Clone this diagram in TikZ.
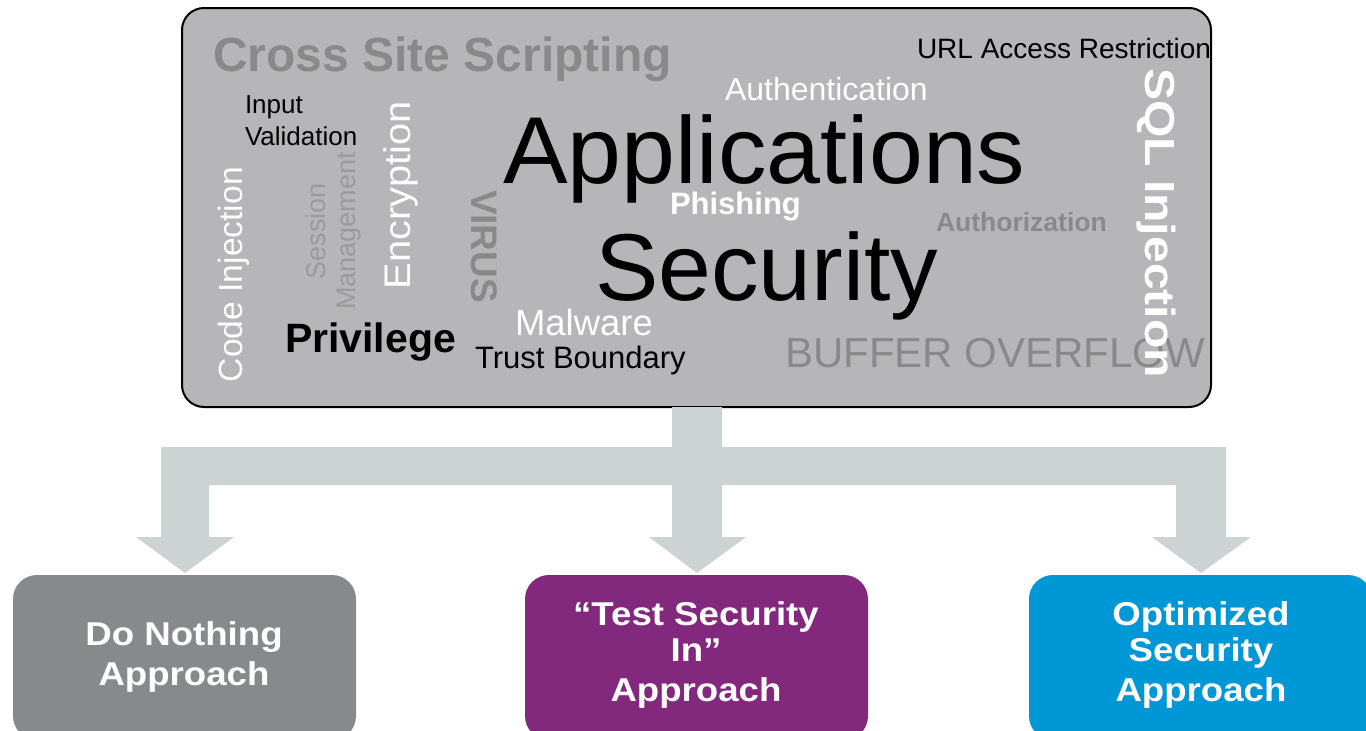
\documentclass[tikz,border=0pt]{standalone}
\usepackage{fontspec}
\setmainfont{Liberation Sans}
\usetikzlibrary{calc}
\definecolor{cloudbg}{HTML}{B6B6B8}
\definecolor{wgray}{HTML}{898989}
\definecolor{wlight}{HTML}{9A9A9A}
\definecolor{arrowc}{HTML}{CDD3D3}
\definecolor{dngray}{HTML}{88898B}
\definecolor{tsipurple}{HTML}{82297D}
\definecolor{osablue}{HTML}{0097D7}
\newcommand\fsz[1]{\fontsize{#1}{#1}\selectfont}
\newcommand\sxb[2]{\scalebox{#1}[1]{#2}}
\begin{document}
\begin{tikzpicture}[x=1pt,y=-1pt,
  word/.style={inner sep=0pt, outer sep=0pt, anchor=base west},
  cword/.style={inner sep=0pt, outer sep=0pt, anchor=base},
  abox/.style={rounded corners=24pt, inner sep=0pt, minimum width=343pt, minimum height=165pt},
  btxt/.style={inner sep=0pt, outer sep=0pt, anchor=base, text=white, font=\fsz{33}\bfseries}]
\useasboundingbox[fill=white] (0,0) rectangle (1366,731);
% bottom approach boxes
\node[abox, fill=dngray] (dn) at (184.5,657.5) {};
\node[abox, fill=tsipurple] (tsi) at (696.5,657.5) {};
\node[abox, fill=osablue] (osa) at (1200.5,657.5) {};
% cloud box
\node[draw=black, line width=2pt, fill=cloudbg, rounded corners=22pt,
      minimum width=1029pt, minimum height=399pt, inner sep=0pt] (cloud) at (696.5,207.5) {};
% block arrows
\fill[arrowc] (672,407) -- (722,407) -- (722,447) -- (1226,447) -- (1226,537)
  -- (1251,537) -- (1201,573) -- (1152,537) -- (1176,537) -- (1176,485)
  -- (722,485) -- (722,537) -- (746,537) -- (697,573) -- (649,537) -- (672,537)
  -- (672,485) -- (209,485) -- (209,537) -- (234,537) -- (185,573) -- (136,537)
  -- (161,537) -- (161,447) -- (672,447) -- cycle;
% word cloud
\node[word, text=wgray, font=\fsz{48}\bfseries] (xss) at (213,71.5) {Cross Site Scripting};
\node[word, text=black, font=\fsz{28}] (url) at (917,58) {URL Access Restriction};
\node[word, text=white, font=\fsz{32}] (authn) at (725,100) {Authentication};
\node[word, text=black, font=\fsz{26}] (inp) at (245,113) {Input};
\node[word, text=black, font=\fsz{26}] (val) at (245,145) {Validation};
\node[word, text=black, font=\fsz{95}] (apps) at (503,183) {\sxb{1.02}{Applications}};
\node[word, text=white, font=\fsz{31}\bfseries] (phish) at (670,214) {Phishing};
\node[word, text=wgray, font=\fsz{26.5}\bfseries] (authz) at (936,231.5) {Authorization};
\node[word, text=black, font=\fsz{95}] (sec) at (595,300) {Security};
\node[word, text=white, font=\fsz{36.5}] (malw) at (515,335) {Malware};
\node[word, text=black, font=\fsz{31}] (trust) at (475,368) {Trust Boundary};
\node[word, text=black, font=\fsz{41}\bfseries] (priv) at (285,352) {Privilege};
\node[word, text=wgray, font=\fsz{42}] (buf) at (785,367) {BUFFER OVERFLOW};
\node[word, rotate=90, text=white, font=\fsz{33.6}] (codeinj) at (242,382) {Code Injection};
\node[cword, rotate=90, text=wlight, font=\fsz{27}] (sess) at (325,231) {Session};
\node[cword, rotate=90, text=wlight, font=\fsz{27}] (mgmt) at (355,231) {Management};
\node[word, rotate=90, text=white, font=\fsz{37}] (enc) at (410.5,289) {\sxb{1.076}{Encryption}};
\node[word, rotate=-90, text=wgray, font=\fsz{37}\bfseries] (virus) at (471.5,190) {VIRUS};
\node[word, rotate=-90, text=white, font=\fsz{42}\bfseries] (sqli) at (1145,68) {\sxb{1.145}{SQL Injection}};
% approach texts
\node[btxt] (dn1) at (184,645) {\sxb{1.11}{Do Nothing}};
\node[btxt] (dn2) at (184,685) {\sxb{1.11}{Approach}};
\node[btxt] (tsi1) at (696,625) {\sxb{1.11}{“Test Security}};
\node[btxt] (tsi2) at (696,661) {\sxb{1.11}{In”}};
\node[btxt] (tsi3) at (696,701) {\sxb{1.11}{Approach}};
\node[btxt] (osa1) at (1201,625) {\sxb{1.11}{Optimized}};
\node[btxt] (osa2) at (1201,661) {\sxb{1.11}{Security}};
\node[btxt] (osa3) at (1201,701) {\sxb{1.11}{Approach}};
\end{tikzpicture}
\end{document}
